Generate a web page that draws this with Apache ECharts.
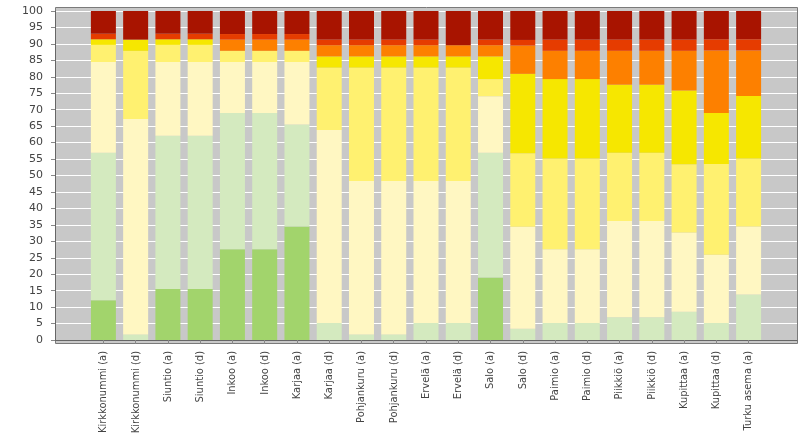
<!DOCTYPE html>
<html>
<head>
<meta charset="utf-8">
<script src="https://cdn.jsdelivr.net/npm/echarts@6/dist/echarts.min.js"></script>
<style>html,body{margin:0;padding:0;background:#fff;}#c{width:802px;height:437px;}</style>
</head>
<body>
<div id="c"></div>
<script>
const categories = ['Kirkkonummi (a)','Kirkkonummi (d)','Siuntio (a)','Siuntio (d)','Inkoo (a)','Inkoo (d)','Karjaa (a)','Karjaa (d)','Pohjankuru (a)','Pohjankuru (d)','Ervelä (a)','Ervelä (d)','Salo (a)','Salo (d)','Paimio (a)','Paimio (d)','Piikkiö (a)','Piikkiö (d)','Kupittaa (a)','Kupittaa (d)','Turku asema (a)'];
const darkGreen   = [12.1, 0,   15.5, 15.5, 27.6, 27.6, 34.5, 0,   0,   0,   0,   0,   19.0, 0,   0,   0,   0,   0,   0,   0,   0];
const lightGreen  = [44.8, 1.7, 46.6, 46.6, 41.4, 41.4, 31.0, 5.2, 1.7, 1.7, 5.2, 5.2, 37.9, 3.4, 5.2, 5.2, 6.9, 6.9, 8.6, 5.2, 13.8];
const paleYellow  = [27.6, 65.5,22.4, 22.4, 15.5, 15.5, 19.0, 58.6,46.6,46.6,43.1,43.1,17.2, 31.0,22.4,22.4,29.3,29.3,24.1,20.7,20.7];
const lightYellow = [5.2,  20.7,5.2,  5.2,  3.4,  3.4,  3.4,  19.0,34.5,34.5,34.5,34.5,5.2,  22.4,27.6,27.6,20.7,20.7,20.7,27.6,20.7];
const brightYellow= [1.7,  3.4, 1.7,  1.7,  0,    0,    0,    3.4, 3.4, 3.4, 3.4, 3.4, 6.9,  24.1,24.1,24.1,20.7,20.7,22.4,15.5,19.0];
const orange      = [0,    0,   0,    0,    3.4,  3.4,  3.4,  3.4, 3.4, 3.4, 3.4, 3.4, 3.4,  8.6, 8.6, 8.6, 10.3,10.3,12.1,19.0,13.8];
const redOrange   = [1.7,  0,   1.7,  1.7,  1.7,  1.7,  1.7,  1.7, 1.7, 1.7, 1.7, 0,   1.7,  1.7, 3.4, 3.4, 3.4, 3.4, 3.4, 3.4, 3.4];
const darkRed     = [6.9,  8.7, 6.9,  6.9,  7.0,  7.0,  7.0,  8.7, 8.7, 8.7, 8.7, 10.4,8.7,  8.8, 8.7, 8.7, 8.7, 8.7, 8.7, 8.6, 8.6];
const yTicks = [0,5,10,15,20,25,30,35,40,45,50,55,60,65,70,75,80,85,90,95,100];

const seriesDefs = [
  ['darkGreen', darkGreen, '#a2d46c'],
  ['lightGreen', lightGreen, '#d4eabf'],
  ['paleYellow', paleYellow, '#fff7c2'],
  ['lightYellow', lightYellow, '#fff170'],
  ['brightYellow', brightYellow, '#f6e700'],
  ['orange', orange, '#fd8000'],
  ['redOrange', redOrange, '#e63c00'],
  ['darkRed', darkRed, '#a81400']
];
const cats = [''].concat(categories, ['']);
const chart = echarts.init(document.getElementById('c'), null, {renderer:'canvas'});
const plotL = 55, plotR = 797, plotT = 7, plotB = 343;
chart.setOption({
  animation: false,
  backgroundColor: '#ffffff',
  graphic: [{
    type: 'rect', z: -10, silent: true,
    shape: {x: plotL + 0.5, y: plotT + 0.5, width: plotR - plotL, height: plotB - plotT},
    style: {fill: '#c8c8c8', stroke: '#7a7a7a', lineWidth: 1}
  }],
  grid: {left: plotL, right: 802 - plotR, top: 11, bottom: 437 - 340, containLabel: false, outerBoundsMode: 'none'},
  xAxis: {
    type: 'category', data: cats, offset: 3,
    axisLine: {show: true, lineStyle: {color: '#666', width: 1}},
    axisTick: {show: true, alignWithLabel: true, length: 4, lineStyle: {color: '#888'},
      interval: function(i, v){ return v !== ''; }},
    axisLabel: {rotate: 90, interval: 0, margin: 8, color: '#444',
      fontFamily: '"DejaVu Sans Condensed", "Liberation Sans Narrow", sans-serif', fontSize: 11},
    splitLine: {show: false}
  },
  yAxis: {
    type: 'value', min: 0, max: 100, interval: 5,
    axisLine: {show: true, lineStyle: {color: '#666', width: 1}},
    axisTick: {show: true, length: 4, lineStyle: {color: '#888'}},
    axisLabel: {color: '#444', fontFamily: '"DejaVu Sans", sans-serif', fontSize: 11, margin: 12,
      formatter: function(v){ return yTicks.indexOf(v) >= 0 ? String(v) : ''; }},
    splitLine: {show: true, lineStyle: {color: '#ffffff', width: 1}}
  },
  series: seriesDefs.map(function(d){
    return {
      name: d[0], type: 'bar', stack: 'total', barWidth: 25,
      data: ['-'].concat(d[1], ['-']),
      itemStyle: {color: d[2]},
      emphasis: {disabled: true}
    };
  })
});
</script>
</body>
</html>
